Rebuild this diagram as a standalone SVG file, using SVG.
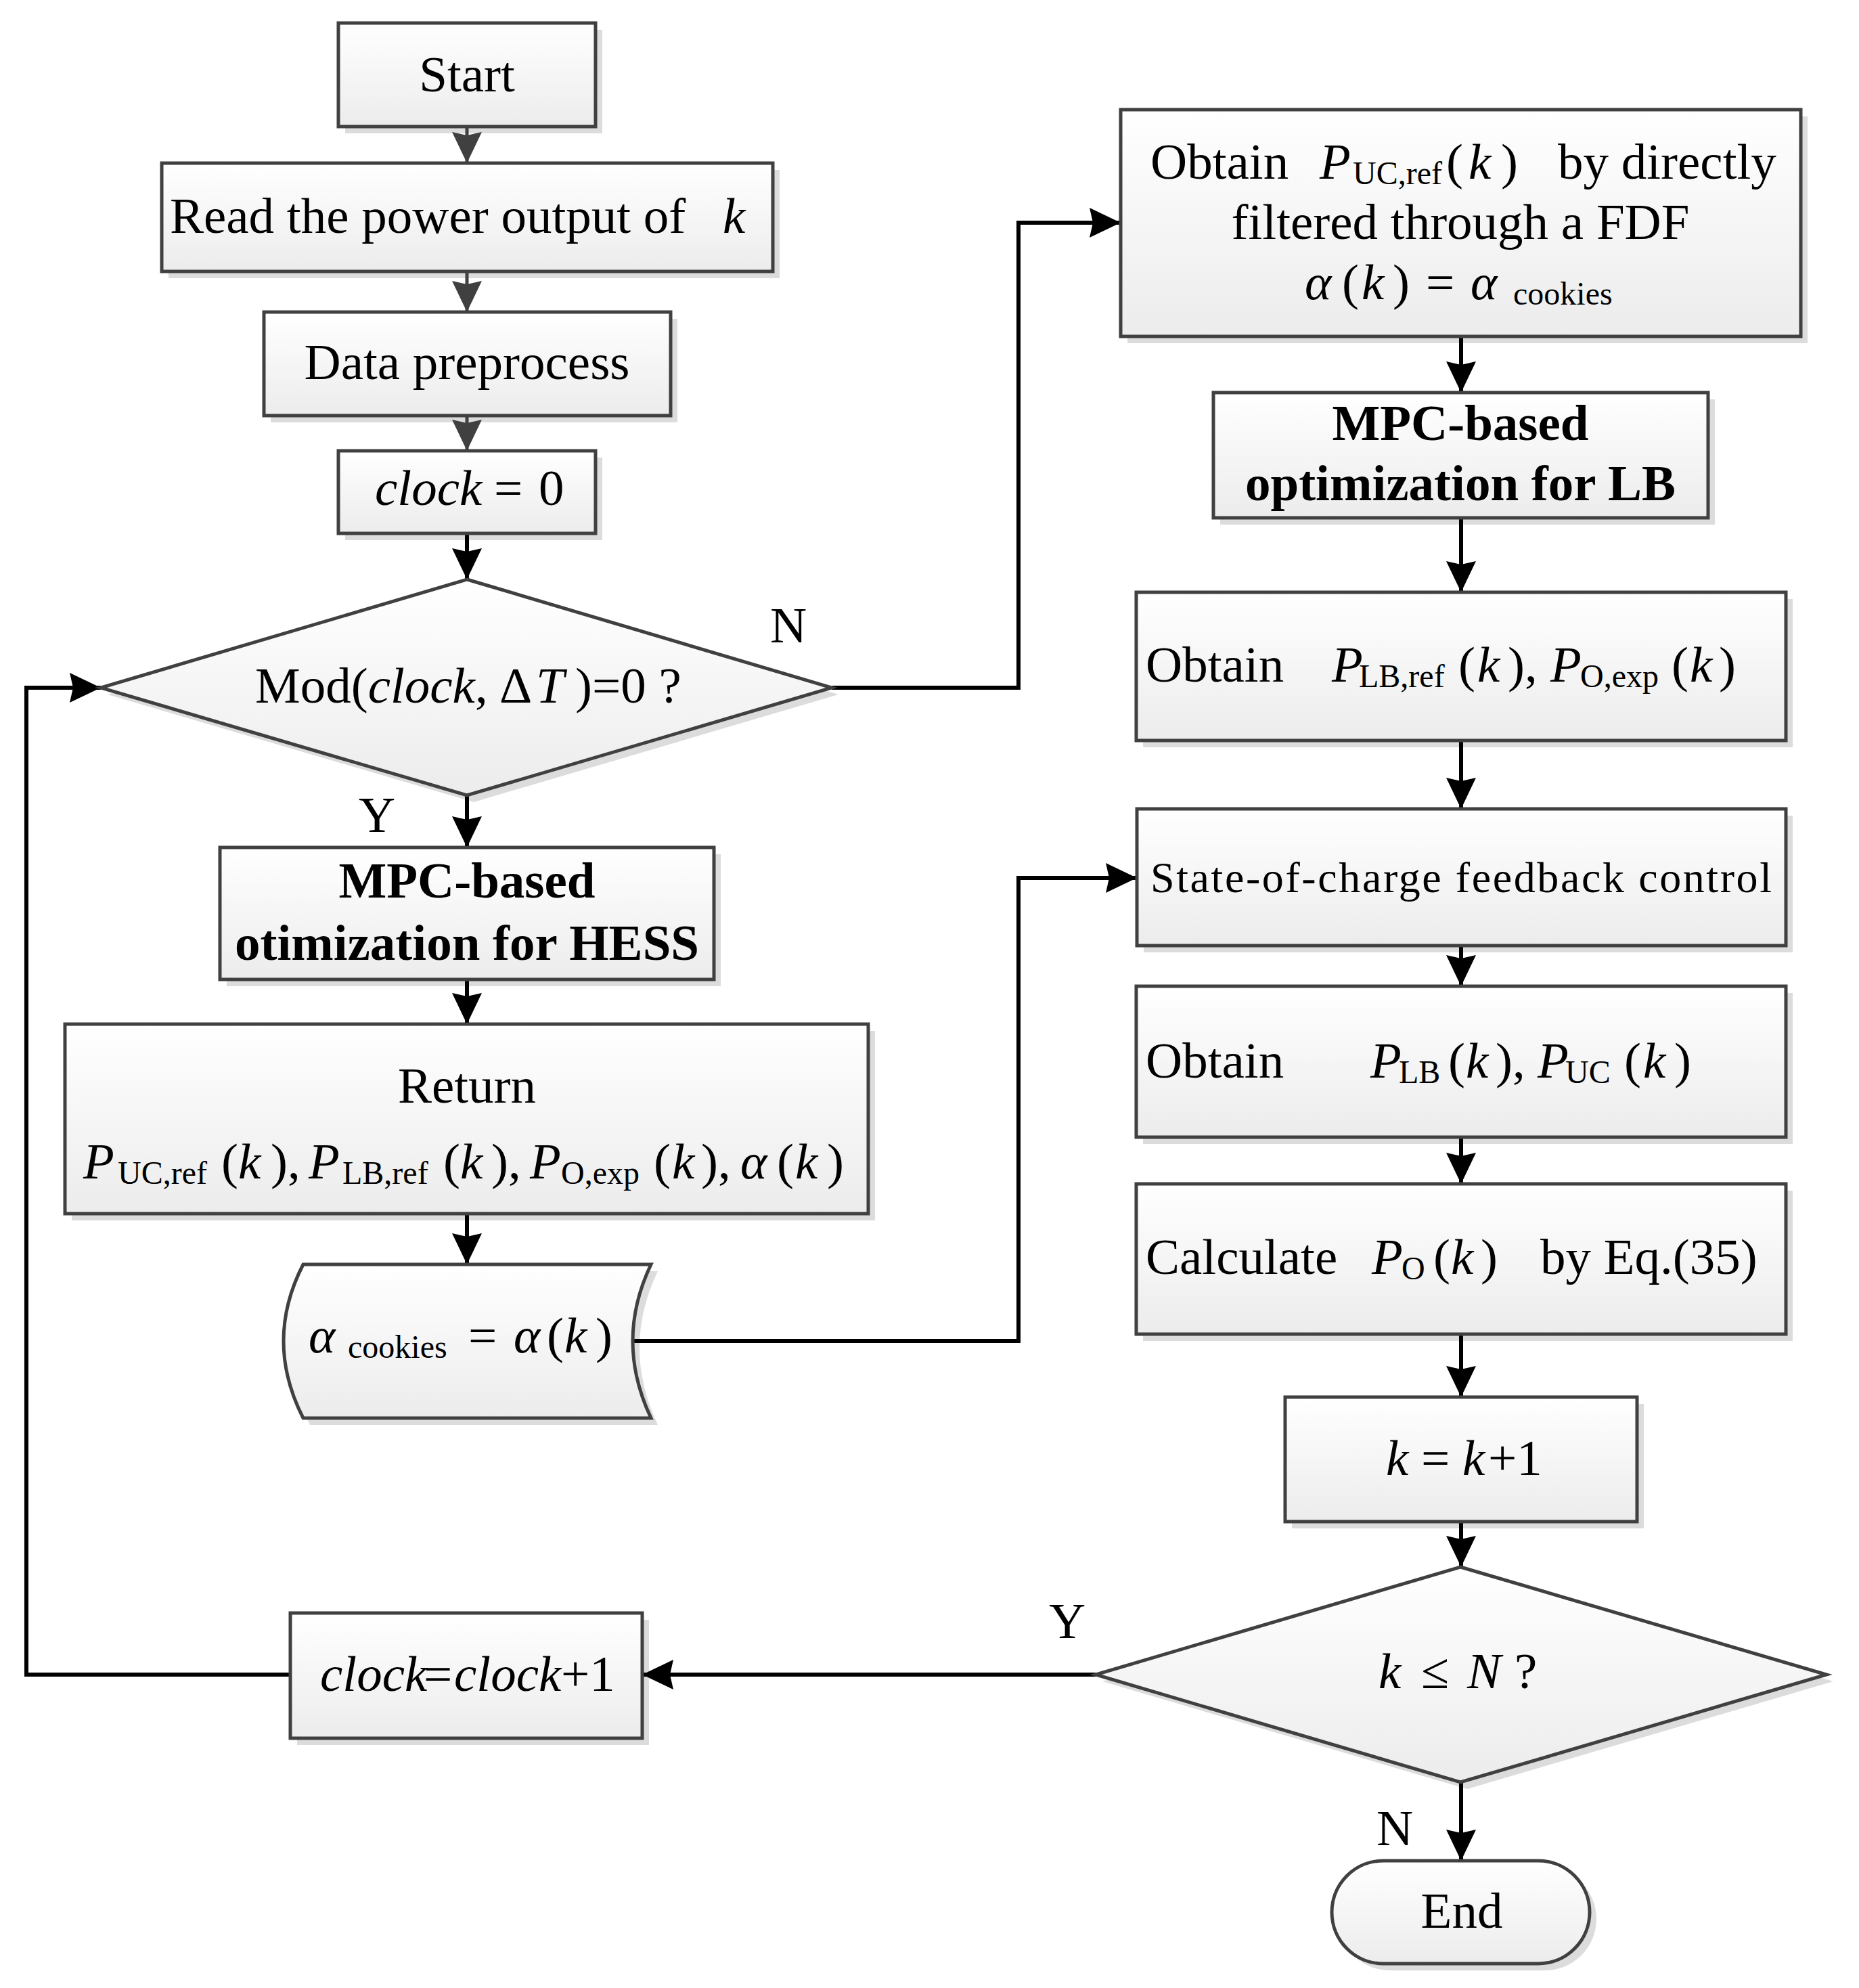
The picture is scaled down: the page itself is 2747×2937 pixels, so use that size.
<svg xmlns="http://www.w3.org/2000/svg" width="2747" height="2937" viewBox="0 0 2747 2937">
<defs>
<linearGradient id="g" x1="0" y1="0" x2="0" y2="1">
<stop offset="0" stop-color="#ffffff"/>
<stop offset="1" stop-color="#ececec"/>
</linearGradient>
<marker id="ab" markerUnits="userSpaceOnUse" markerWidth="48" markerHeight="46" refX="46" refY="22" orient="auto">
<path d="M0,0 L46,22 L0,44 L5,22 z" fill="#000"/>
</marker>
<marker id="ag" markerUnits="userSpaceOnUse" markerWidth="48" markerHeight="46" refX="46" refY="22" orient="auto">
<path d="M0,0 L46,22 L0,44 L5,22 z" fill="#404040"/>
</marker>
<style>
.sh{fill:#dcdcdc}
.n{fill:url(#g);stroke:#404040;stroke-width:5}
.c{fill:none;stroke:#000;stroke-width:6;marker-end:url(#ab)}
.cg{fill:none;stroke:#404040;stroke-width:5;marker-end:url(#ag)}
text{font-family:"Liberation Serif","Times New Roman",serif;font-size:75px;fill:#000}
.i{font-style:italic}
.s{font-size:48px}
.b{font-weight:bold}
.m{text-anchor:middle}
</style>
</defs>
<rect width="2747" height="2937" fill="#fff"/>

<g id="shadows">
<rect class="sh" x="510" y="44" width="380" height="153"/>
<rect class="sh" x="249" y="251" width="903" height="160"/>
<rect class="sh" x="400" y="471" width="601" height="153"/>
<rect class="sh" x="510" y="676" width="380" height="122"/>
<polygon class="sh" points="700,866 1239,1026 700,1185 159,1026"/>
<rect class="sh" x="335" y="1262" width="730" height="195"/>
<rect class="sh" x="106" y="1523" width="1187" height="280"/>
<path class="sh" d="M458,1878 L972,1878 Q918,1991 972,2105 L458,2105 Q400,1991 458,1878 z"/>
<rect class="sh" x="439" y="2393" width="520" height="185"/>
<rect class="sh" x="1666" y="172" width="1005" height="335"/>
<rect class="sh" x="1803" y="590" width="731" height="185"/>
<rect class="sh" x="1689" y="885" width="960" height="219"/>
<rect class="sh" x="1690" y="1205" width="959" height="202"/>
<rect class="sh" x="1689" y="1467" width="960" height="223"/>
<rect class="sh" x="1689" y="1759" width="960" height="222"/>
<rect class="sh" x="1909" y="2074" width="520" height="184"/>
<polygon class="sh" points="2168,2325 2709,2484 2168,2643 1629,2484"/>
<rect class="sh" x="1978" y="2759" width="381" height="152" rx="76"/>
</g>

<g id="connectors">
<path class="cg" d="M690,187 V241"/>
<path class="cg" d="M690,401 V461"/>
<path class="cg" d="M690,614 V666"/>
<path class="c" d="M690,788 V856"/>
<path class="c" d="M690,1175 V1252"/>
<path class="c" d="M690,1447 V1513"/>
<path class="c" d="M690,1793 V1868"/>
<path class="c" d="M1229,1016 H1505 V329 H1656"/>
<path class="c" d="M2159,497 V580"/>
<path class="c" d="M2159,765 V875"/>
<path class="c" d="M2159,1094 V1195"/>
<path class="c" d="M935,1981 H1505 V1297 H1680"/>
<path class="c" d="M2159,1397 V1457"/>
<path class="c" d="M2159,1680 V1749"/>
<path class="c" d="M2159,1971 V2064"/>
<path class="c" d="M2159,2248 V2315"/>
<path class="c" d="M2159,2633 V2749"/>
<path class="c" d="M1619,2474 H949"/>
<path class="c" d="M429,2474 H39 V1016 H149"/>
</g>

<g id="start">
<rect class="n" x="500" y="34" width="380" height="153"/>
<text class="m" x="690" y="135">Start</text>
</g>
<g id="read">
<rect class="n" x="239" y="241" width="903" height="160"/>
<text x="251" y="344">Read the power output of<tspan class="i" x="1068">k</tspan></text>
</g>
<g id="preprocess">
<rect class="n" x="390" y="461" width="601" height="153"/>
<text class="m" x="690" y="560">Data preprocess</text>
</g>
<g id="clock0">
<rect class="n" x="500" y="666" width="380" height="122"/>
<text x="554" y="746"><tspan class="i">clock</tspan><tspan x="730">=</tspan><tspan x="796">0</tspan></text>
</g>
<g id="mod">
<polygon class="n" points="690,856 1229,1016 690,1175 149,1016"/>
<text x="377" y="1038">Mod(<tspan class="i">clock</tspan>,<tspan x="738">Δ</tspan><tspan class="i" x="792">T</tspan><tspan x="850">)=0 ?</tspan></text>
</g>
<g id="mpc-hess">
<rect class="n" x="325" y="1252" width="730" height="195"/>
<text class="m b" x="690" y="1326">MPC-based</text>
<text class="m b" x="690" y="1418">otimization for HESS</text>
</g>
<g id="return">
<rect class="n" x="96" y="1513" width="1187" height="280"/>
<text class="m" x="690" y="1629">Return</text>
<text y="1741"><tspan class="i" x="123">P</tspan><tspan class="s" x="174" dy="8">UC,ref</tspan><tspan x="327" dy="-8">(</tspan><tspan class="i" x="352">k</tspan><tspan x="400">),</tspan><tspan class="i" x="456">P</tspan><tspan class="s" x="506" dy="8">LB,ref</tspan><tspan x="655" dy="-8">(</tspan><tspan class="i" x="680">k</tspan><tspan x="726">),</tspan><tspan class="i" x="783">P</tspan><tspan class="s" x="829" dy="8">O,exp</tspan><tspan x="966" dy="-8">(</tspan><tspan class="i" x="993">k</tspan><tspan x="1036">),</tspan><tspan class="i" x="1094">α</tspan><tspan x="1148">(</tspan><tspan class="i" x="1175">k</tspan><tspan x="1222">)</tspan></text>
</g>
<g id="store">
<path class="n" d="M448,1868 L962,1868 Q908,1981 962,2095 L448,2095 Q390,1981 448,1868 z"/>
<text y="1998"><tspan class="i" x="456">α</tspan><tspan class="s" x="514" dy="8">cookies</tspan><tspan x="692" dy="-8">=</tspan><tspan class="i" x="759">α</tspan><tspan x="808">(</tspan><tspan class="i" x="834">k</tspan><tspan x="880">)</tspan></text>
</g>
<g id="clock-inc">
<rect class="n" x="429" y="2383" width="520" height="185"/>
<text y="2498"><tspan class="i" x="473">clock</tspan><tspan x="626">=</tspan><tspan class="i" x="671">clock</tspan><tspan x="829">+1</tspan></text>
</g>
<g id="obtain-puc">
<rect class="n" x="1656" y="162" width="1005" height="335"/>
<text y="264"><tspan x="1700">Obtain</tspan><tspan class="i" x="1950">P</tspan><tspan class="s" x="1999" dy="8">UC,ref</tspan><tspan x="2137" dy="-8">(</tspan><tspan class="i" x="2170">k</tspan><tspan x="2218">)</tspan><tspan x="2302">by directly</tspan></text>
<text class="m" x="2158" y="353">filtered through a FDF</text>
<text y="442"><tspan class="i" x="1928">α</tspan><tspan x="1983">(</tspan><tspan class="i" x="2012">k</tspan><tspan x="2058">)</tspan><tspan x="2107">=</tspan><tspan class="i" x="2173">α</tspan><tspan class="s" x="2236" dy="8">cookies</tspan></text>
</g>
<g id="mpc-lb">
<rect class="n" x="1793" y="580" width="731" height="185"/>
<text class="m b" x="2158" y="650">MPC-based</text>
<text class="m b" x="2158" y="739">optimization for LB</text>
</g>
<g id="obtain-plb">
<rect class="n" x="1679" y="875" width="960" height="219"/>
<text y="1007"><tspan x="1693">Obtain</tspan><tspan class="i" x="1968">P</tspan><tspan class="s" x="2008" dy="8">LB,ref</tspan><tspan x="2155" dy="-8">(</tspan><tspan class="i" x="2183">k</tspan><tspan x="2228">),</tspan><tspan class="i" x="2291">P</tspan><tspan class="s" x="2335" dy="8">O,exp</tspan><tspan x="2470" dy="-8">(</tspan><tspan class="i" x="2497">k</tspan><tspan x="2540">)</tspan></text>
</g>
<g id="soc">
<rect class="n" x="1680" y="1195" width="959" height="202"/>
<text x="1700" y="1318" style="font-size:64px" textLength="918" lengthAdjust="spacing">State-of-charge feedback control</text>
</g>
<g id="obtain-plb-puc">
<rect class="n" x="1679" y="1457" width="960" height="223"/>
<text y="1592"><tspan x="1693">Obtain</tspan><tspan class="i" x="2025">P</tspan><tspan class="s" x="2067" dy="8">LB</tspan><tspan x="2140" dy="-8">(</tspan><tspan class="i" x="2166">k</tspan><tspan x="2210">),</tspan><tspan class="i" x="2272">P</tspan><tspan class="s" x="2313" dy="8">UC</tspan><tspan x="2400" dy="-8">(</tspan><tspan class="i" x="2428">k</tspan><tspan x="2474">)</tspan></text>
</g>
<g id="calc">
<rect class="n" x="1679" y="1749" width="960" height="222"/>
<text y="1882"><tspan x="1693">Calculate</tspan><tspan class="i" x="2027">P</tspan><tspan class="s" x="2071" dy="8">O</tspan><tspan x="2118" dy="-8">(</tspan><tspan class="i" x="2144">k</tspan><tspan x="2188">)</tspan><tspan x="2276">by Eq.(35)</tspan></text>
</g>
<g id="k-inc">
<rect class="n" x="1899" y="2064" width="520" height="184"/>
<text y="2179"><tspan class="i" x="2048">k</tspan><tspan x="2100">=</tspan><tspan class="i" x="2161">k</tspan><tspan x="2199">+1</tspan></text>
</g>
<g id="k-check">
<polygon class="n" points="2158,2315 2699,2474 2158,2633 1619,2474"/>
<text y="2494"><tspan class="i" x="2037">k</tspan><tspan x="2100">≤</tspan><tspan class="i" x="2168">N</tspan><tspan x="2238">?</tspan></text>
</g>
<g id="end">
<rect class="n" x="1968" y="2749" width="381" height="152" rx="76"/>
<text class="m" x="2160" y="2848">End</text>
</g>
<g id="labels">
<text class="m" x="1165" y="949">N</text>
<text class="m" x="557" y="1229">Y</text>
<text class="m" x="1577" y="2420">Y</text>
<text class="m" x="2061" y="2726">N</text>
</g>
</svg>
